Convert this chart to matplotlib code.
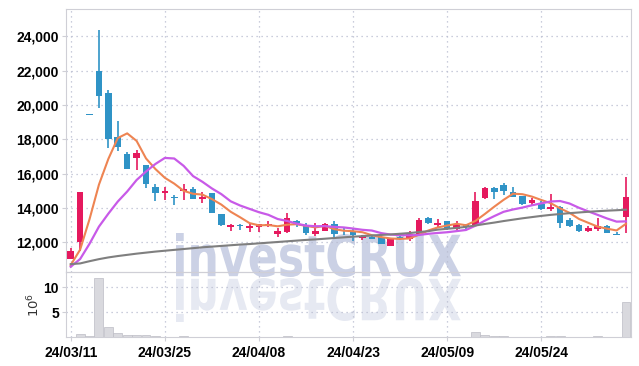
import numpy as np
import matplotlib
matplotlib.use('Agg')
import matplotlib.pyplot as plt
from matplotlib.textpath import TextPath
from matplotlib.patches import PathPatch
from matplotlib.font_manager import FontProperties
from matplotlib.transforms import Affine2D, IdentityTransform

# ------------------------------
# Data
# ------------------------------
dates = ['24/03/11', '24/03/12', '24/03/13', '24/03/14', '24/03/15', '24/03/18', '24/03/19', '24/03/20',
         '24/03/21', '24/03/22', '24/03/25', '24/03/26', '24/03/27', '24/03/28', '24/03/29', '24/04/01',
         '24/04/02', '24/04/03', '24/04/04', '24/04/05', '24/04/08', '24/04/09', '24/04/11', '24/04/12',
         '24/04/15', '24/04/16', '24/04/17', '24/04/18', '24/04/19', '24/04/22', '24/04/23', '24/04/24',
         '24/04/25', '24/04/26', '24/04/29', '24/04/30', '24/05/02', '24/05/03', '24/05/07', '24/05/08',
         '24/05/09', '24/05/10', '24/05/13', '24/05/14', '24/05/16', '24/05/17', '24/05/20', '24/05/21',
         '24/05/22', '24/05/23', '24/05/24', '24/05/27', '24/05/28', '24/05/29', '24/05/30', '24/05/31',
         '24/06/03', '24/06/04', '24/06/05', '24/06/07']

opens = [11050, 12000, 19400, 22000, 20700, 18150, 17150, 16900, 16500, 15250,
         14850, 14650, 15000, 15100, 14550, 14900, 13650, 12900, 12980, 12850,
         12900, 13000, 12470, 12620, 13250, 13000, 12480, 12680, 13070, 12700,
         12650, 12280, 12310, 12290, 11800, 12300, 12210, 12430, 13420, 13030,
         13250, 12800, 12990, 13010, 14600, 15180, 15350, 14930, 14700, 14270,
         14230, 13960, 14050, 13300, 13000, 12680, 12780, 12950, 12480, 13450]
highs = [11650, 14930, 19400, 24400, 20850, 19050, 17250, 17400, 16500, 15400,
         15250, 14750, 15400, 15200, 14950, 14900, 13650, 13050, 13070, 13050,
         13050, 13250, 12850, 13700, 13300, 13100, 13100, 13100, 13250, 12870,
         12750, 12410, 12400, 12350, 12250, 12400, 12640, 13400, 13500, 13350,
         13250, 13250, 13050, 14950, 15250, 15200, 15450, 15200, 14700, 14570,
         14400, 14800, 14120, 13400, 13070, 12970, 13430, 13000, 12620, 15800]
lows = [11000, 11500, 19400, 19850, 17500, 17300, 16250, 16200, 15150, 14400,
        14450, 14200, 14450, 14500, 14300, 13700, 12980, 12650, 12700, 12600,
        12600, 12900, 12300, 12520, 12900, 12400, 12370, 12650, 12300, 12420,
        12100, 12140, 12170, 11920, 11800, 12150, 12100, 12430, 13080, 12880,
        12700, 12720, 12720, 12980, 14500, 14500, 14780, 14650, 14200, 14150,
        13900, 13800, 12820, 12900, 12620, 12580, 12680, 12550, 12400, 12560]
closes = [11480, 14930, 19400, 20500, 18000, 17550, 16300, 17200, 15400, 14900,
          15000, 14600, 15100, 14550, 14650, 13700, 13000, 13000, 12950, 12950,
          13050, 13080, 12640, 13420, 13100, 12550, 12640, 13080, 12470, 12650,
          12400, 12340, 12210, 11920, 12250, 12270, 12480, 13300, 13150, 13140,
          12820, 12990, 12880, 14400, 15160, 14950, 15000, 14660, 14250, 14470,
          13960, 14070, 13150, 12950, 12680, 12830, 12950, 12560, 12440, 14620]
# closes of the days before the window (for the short moving averages)
prior_closes = [10450, 10500, 10500, 10450, 10500, 10450, 10500, 10450, 10500]
# 60-day average as drawn (grey line)
ma60 = [10730, 10770, 10900, 11020, 11120, 11200, 11270, 11340, 11400, 11460,
        11510, 11560, 11610, 11660, 11710, 11750, 11790, 11830, 11870, 11900,
        11940, 11980, 12020, 12060, 12100, 12140, 12170, 12210, 12250, 12290,
        12330, 12360, 12400, 12430, 12460, 12500, 12540, 12600, 12650, 12740,
        12790, 12840, 12900, 12980, 13070, 13150, 13240, 13320, 13400, 13470,
        13540, 13600, 13650, 13700, 13740, 13780, 13815, 13845, 13870, 13900]
volumes = [0.08, 0.74, 0.34, 11.9, 2.1, 0.95, 0.55, 0.55, 0.55, 0.35,
           0.15, 0.15, 0.35, 0.12, 0.12, 0.1, 0.1, 0.08, 0.06, 0.05,
           0.05, 0.05, 0.06, 0.27, 0.06, 0.05, 0.05, 0.05, 0.05, 0.04,
           0.04, 0.04, 0.04, 0.05, 0.05, 0.04, 0.04, 0.06, 0.05, 0.05,
           0.04, 0.04, 0.05, 1.07, 0.47, 0.27, 0.27, 0.06, 0.05, 0.05,
           0.06, 0.27, 0.27, 0.05, 0.04, 0.04, 0.27, 0.05, 0.05, 7.0]

# ------------------------------
# Moving averages
# ------------------------------
hist = np.array(prior_closes + closes, dtype=float)
n = len(closes)
ma5 = [hist[i + 5:i + 10].mean() for i in range(n)]
ma10 = [hist[i:i + 10].mean() for i in range(n)]

# ------------------------------
# Figure
# ------------------------------
RED = '#e5195e'
BLUE = '#2f93c6'
GRID = '#b9bdd0'
SPINE = '#cfcfd6'
tick_font = FontProperties(family=['Liberation Sans', 'DejaVu Sans'], weight='bold', size=10)

fig = plt.figure(figsize=(6.39, 3.66), dpi=100)
ax = fig.add_axes([0.1033, 0.2568, 0.8837, 0.7178])
vax = fig.add_axes([0.1033, 0.0784, 0.8837, 0.1784], sharex=ax)
for a in (ax, vax):
    a.set_facecolor('none')
    for s in a.spines.values():
        s.set_color(SPINE)
    a.grid(True, linestyle=(0, (1, 3)), color=GRID, linewidth=0.9)
    a.set_axisbelow(True)
    a.tick_params(length=3, color=SPINE, pad=2)

x = np.arange(n)
up = np.array(closes) > np.array(opens)
colors = [RED if u else BLUE for u in up]

# candles
ax.vlines(x, lows, highs, colors=colors, linewidth=1.2, zorder=3)
bottoms = np.minimum(opens, closes)
heights = np.maximum(np.abs(np.array(closes) - np.array(opens)), 50)
ax.bar(x, heights, bottom=bottoms, width=0.7, color=colors, linewidth=0, zorder=4)

# moving averages
ax.plot(x, ma5, color='#ee8452', linewidth=1.5, zorder=5)
ax.plot(x, ma10, color='#c85ae8', linewidth=1.6, zorder=5)
ax.plot(x, ma60, color='#7f7f7f', linewidth=1.5, zorder=5)

ax.set_xlim(-0.5, n - 0.5)
ax.set_ylim(10270, 25580)
ax.set_yticks([12000, 14000, 16000, 18000, 20000, 22000, 24000])
ax.set_yticklabels(['{:,}'.format(v) for v in ax.get_yticks().astype(int)], fontproperties=tick_font)
plt.setp(ax.get_xticklabels(), visible=False)
ax.tick_params(axis='x', length=0)

# volume
vax.bar(x, np.array(volumes) * 1e6, width=0.95, color='#d9d9de', edgecolor='#bdbdc5', linewidth=0.5, zorder=3)
vax.set_ylim(0, 13.1e6)
vax.set_yticks([5e6, 10e6])
vax.set_yticklabels(['5', '10'], fontproperties=tick_font)
vax.set_ylabel(r'$10^6$', fontsize=9.5, color='#333333', labelpad=1)
ticks = list(range(0, n, 10))
vax.set_xticks(ticks)
vax.set_xticklabels([dates[i] for i in ticks], fontproperties=tick_font)
vax.tick_params(axis='x', pad=3)

# watermark with reflection
tp = TextPath((0, 0), 'investCRUX', size=100, prop=FontProperties(family='DejaVu Sans', weight='bold'))
bb = tp.get_extents()
sx = 285 / bb.width
sy = 44 / bb.height
base = Affine2D().translate(-bb.x0, -bb.y0)
wm = PathPatch(tp, facecolor='#cbd1e5', edgecolor='none', zorder=-1,
               transform=base + Affine2D().scale(sx, sy).translate(176, 366 - 277) + IdentityTransform())
rf = PathPatch(tp, facecolor='#e6e9f2', edgecolor='none', zorder=-1,
               transform=base + Affine2D().scale(sx, -sy).translate(176, 366 - 278) + IdentityTransform())
fig.patches.extend([wm, rf])

fig.savefig('out.png', dpi=100)
